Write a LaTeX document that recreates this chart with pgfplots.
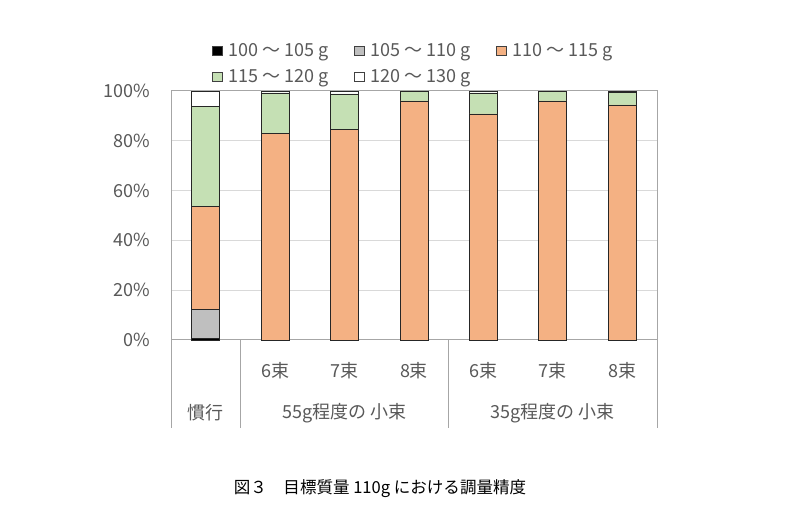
\documentclass[border=0pt]{standalone}
\usepackage{fontspec}
\setmainfont{Noto Sans CJK JP}
\usepackage{pgfplots}
\pgfplotsset{compat=1.18}
\definecolor{txt}{HTML}{595959}
\definecolor{gridc}{HTML}{D9D9D9}
\definecolor{framec}{HTML}{A6A6A6}
\definecolor{cgray}{HTML}{BFBFBF}
\definecolor{corange}{HTML}{F4B183}
\definecolor{cgreen}{HTML}{C5E0B4}
\begin{document}
\begin{tikzpicture}
\path[use as bounding box, fill=white] (0,0) rectangle (591pt,398.25pt);
\begin{axis}[
  at={(128.25pt,143.25pt)}, anchor=south west,
  scale only axis, width=364.5pt, height=186.75pt,
  ybar stacked, bar width=21pt,
  xmin=-0.5, xmax=6.5, ymin=0, ymax=100,
  xtick={0,...,6}, xticklabels={,6束,7束,8束,6束,7束,8束},
  ytick={0,20,...,100},
  yticklabel={\pgfmathprintnumber{\tick}\%},
  /pgf/number format/assume math mode=true,
  major tick length=0pt,
  ymajorgrids, grid style={gridc, line width=0.75pt},
  axis line style={framec, line width=0.75pt},
  ticklabel style={font=\fontsize{13.5pt}{16pt}\selectfont, text=txt},
  yticklabel style={xshift=-12pt},
  xticklabel style={yshift=-13pt},
  clip=false,
  legend columns=3,
  legend style={draw=none, fill=none, at={(0.5,1)}, anchor=south, yshift=0.75pt,
    font=\fontsize{13.5pt}{16pt}\selectfont, text=txt,
    /tikz/every even column/.append style={column sep=17pt},
    row sep=4.25pt},
  legend cell align=left,
  legend image code/.code={\path[draw=none, fill=none] (0pt,0pt) -- (10pt,0pt); \draw[#1, draw=black!75, line width=0.6pt] (0pt,-3.5pt) rectangle (7pt,3.5pt);},
  every axis plot/.append style={draw=black!85, line width=0.6pt},
]
\addplot[fill=black] coordinates {(0,0.8) (1,0) (2,0) (3,0) (4,0) (5,0) (6,0)};
\addlegendentry{100 〜 105 g}
\addplot[fill=cgray] coordinates {(0,11.5) (1,0) (2,0) (3,0) (4,0) (5,0) (6,0)};
\addlegendentry{105 〜 110 g}
\addplot[fill=corange] coordinates {(0,41.3) (1,83.1) (2,84.7) (3,96.0) (4,90.8) (5,96.0) (6,94.4)};
\addlegendentry{110 〜 115 g}
\addplot[fill=cgreen] coordinates {(0,40.1) (1,16.1) (2,14.1) (3,4.0) (4,8.4) (5,4.0) (6,5.0)};
\addlegendentry{115 〜 120 g}
\addplot[fill=white] coordinates {(0,6.3) (1,0.8) (2,1.2) (3,0) (4,0.8) (5,0) (6,0.6)};
\addlegendentry{120 〜 130 g}
\draw[framec, line width=0.75pt] (axis cs:-0.5,0) -- ++(0pt,-66pt);
\draw[framec, line width=0.75pt] (axis cs:0.5,0) -- ++(0pt,-66pt);
\draw[framec, line width=0.75pt] (axis cs:3.5,0) -- ++(0pt,-66pt);
\draw[framec, line width=0.75pt] (axis cs:6.5,0) -- ++(0pt,-66pt);
\draw[framec, line width=0.75pt] (axis cs:6.5,0) -- (axis cs:6.5,100) -- (axis cs:-0.5,100);
\node[text=txt, font=\fontsize{13.5pt}{16pt}\selectfont] at ([yshift=-54.75pt]axis cs:0,0) {慣行};
\node[text=txt, font=\fontsize{13.5pt}{16pt}\selectfont] at ([yshift=-54.75pt]axis cs:2,0) {55g程度の 小束};
\node[text=txt, font=\fontsize{13.5pt}{16pt}\selectfont] at ([yshift=-54.75pt]axis cs:5,0) {35g程度の 小束};
\end{axis}
\node[font=\fontsize{12.4pt}{14pt}\selectfont, text=black] at (285pt,31.5pt) {図３　目標質量 110g における調量精度};
\end{tikzpicture}
\end{document}
